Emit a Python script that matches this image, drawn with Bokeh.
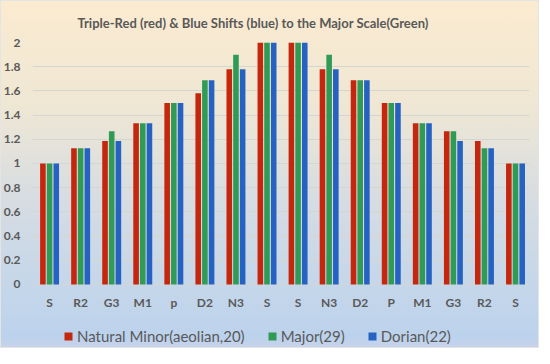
from bokeh.plotting import figure
from bokeh.models import (ColumnDataSource, FixedTicker, Legend, LegendItem,
                          CustomJSTickFormatter, Range1d, Title)
from bokeh.transform import dodge
from bokeh.embed import file_html
from bokeh.resources import INLINE

# ---- data ----
notes = ["S", "R2", "G3", "M1", "p", "D2", "N3", "S",
         "S", "N3", "D2", "P", "M1", "G3", "R2", "S"]
natural_minor = [1.0, 1.125, 1.185, 1.333, 1.5, 1.58, 1.778, 2.0,
                 2.0, 1.778, 1.6875, 1.5, 1.333, 1.266, 1.185, 1.0]
major = [1.0, 1.125, 1.266, 1.333, 1.5, 1.6875, 1.898, 2.0,
         2.0, 1.898, 1.6875, 1.5, 1.333, 1.266, 1.125, 1.0]
dorian = [1.0, 1.125, 1.185, 1.333, 1.5, 1.6875, 1.778, 2.0,
          2.0, 1.778, 1.6875, 1.5, 1.333, 1.185, 1.125, 1.0]
series_names = ["Natural Minor(aeolian,20)", "Major(29)", "Dorian(22)"]
y_ticks = [0, 0.2, 0.4, 0.6, 0.8, 1.0, 1.2, 1.4, 1.6, 1.8, 2.0]

xs = list(range(1, len(notes) + 1))
src = ColumnDataSource(dict(x=xs, nm=natural_minor, mj=major, dr=dorian))

FONT = "Lato"
GRAY = "#595959"
colors = ["#C4260E", "#2F9B55", "#2562C2"]

p = figure(frame_width=497, frame_height=306, output_backend="svg",
           toolbar_location=None,
           x_range=Range1d(0.45, len(notes) + 0.45), y_range=Range1d(-0.529, 2.0),
           min_border_left=27, min_border_right=10, min_border_top=40,
           min_border_bottom=0)
p.styles = {"background": "linear-gradient(180deg, #FBEBD0 0%, #EFE7D4 30%, #D6DCE2 58%, #C6D7E9 80%, #BCD2EC 97%, #C9D3EA 100%)",
            "box-shadow": "inset 0 0 0 1px #E4E4E4"}
p.background_fill_alpha = 0
p.border_fill_alpha = 0
p.outline_line_color = None

t = Title(text="Triple-Red (red) & Blue Shifts (blue) to the Major Scale(Green)",
          align="left", offset=45, text_font=FONT, text_font_size="13px",
          text_font_style="bold", text_color=GRAY, standoff=24)
p.add_layout(t, "above")

w = 0.18
r1 = p.vbar(x=dodge("x", -0.215, range=p.x_range), top="nm", width=w, source=src,
            fill_color=colors[0], line_color=None)
r2 = p.vbar(x=dodge("x", 0.0, range=p.x_range), top="mj", width=w, source=src,
            fill_color=colors[1], line_color=None)
r3 = p.vbar(x=dodge("x", 0.215, range=p.x_range), top="dr", width=w, source=src,
            fill_color=colors[2], line_color=None)

p.xaxis.fixed_location = 0
p.xaxis.ticker = FixedTicker(ticks=xs)
p.xaxis.major_label_overrides = {i: n for i, n in zip(xs, notes)}
p.xaxis.axis_line_color = None
p.xaxis.major_tick_line_color = None
p.xaxis.minor_tick_line_color = None
p.xaxis.major_label_text_font = FONT
p.xaxis.major_label_text_font_size = "12px"
p.xaxis.major_label_text_font_style = "bold"
p.xaxis.major_label_text_color = GRAY
p.xaxis.major_label_standoff = 5
p.xgrid.grid_line_color = None

p.yaxis.ticker = FixedTicker(ticks=y_ticks)
p.yaxis.formatter = CustomJSTickFormatter(code="return (Math.round(tick*10)/10).toString();")
p.yaxis.axis_line_color = None
p.yaxis.major_tick_line_color = None
p.yaxis.minor_tick_line_color = None
p.yaxis.major_label_text_font = FONT
p.yaxis.major_label_text_font_size = "12px"
p.yaxis.major_label_text_font_style = "bold"
p.yaxis.major_label_text_color = GRAY
p.yaxis.major_label_standoff = 6
p.ygrid.grid_line_color = "#D6D6D0"
p.ygrid.grid_line_width = 1

legend = Legend(items=[LegendItem(label=series_names[0], renderers=[r1]),
                       LegendItem(label=series_names[1], renderers=[r2]),
                       LegendItem(label=series_names[2], renderers=[r3])],
                orientation="horizontal", location=(31, 3),
                background_fill_alpha=0, border_line_color=None,
                label_text_font=FONT, label_text_font_size="15px",
                label_text_color=GRAY, glyph_width=10, glyph_height=10,
                spacing=22, label_standoff=4, padding=4, margin=0)
p.add_layout(legend)

open("out.html", "w").write(file_html(p, INLINE))
